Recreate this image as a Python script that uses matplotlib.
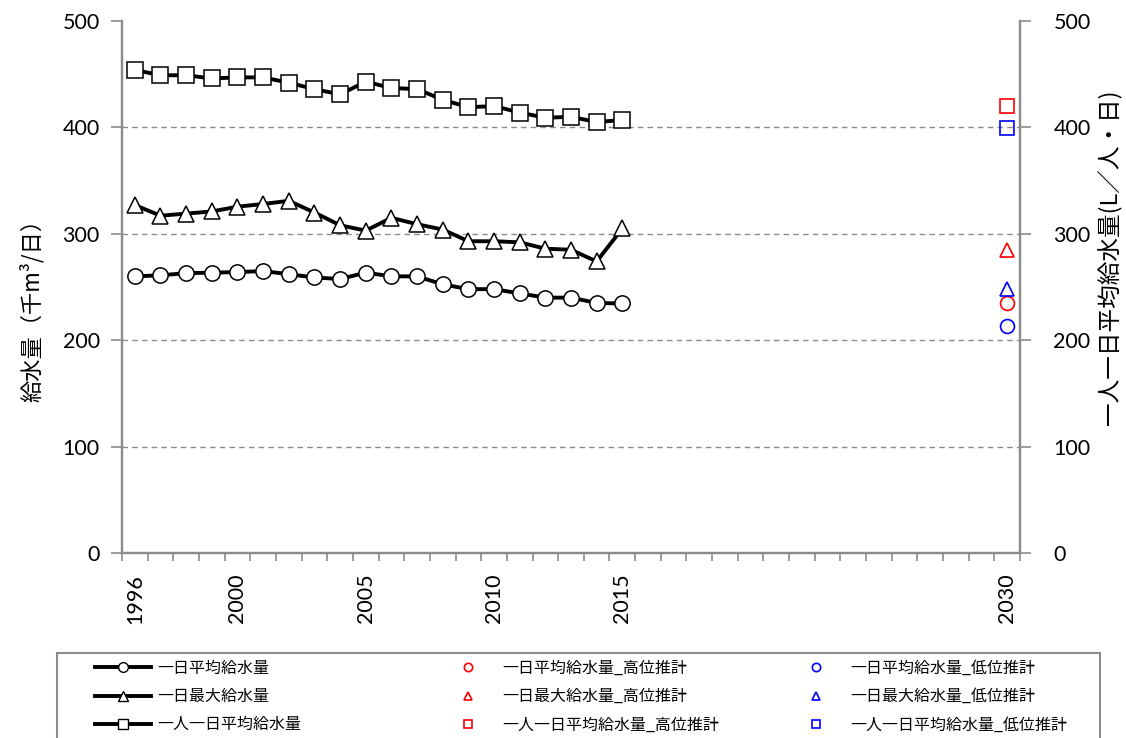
import numpy as np
import matplotlib
matplotlib.use("Agg")
import matplotlib.pyplot as plt
from matplotlib.lines import Line2D
from matplotlib.patches import Rectangle

plt.rcParams['font.family'] = ['Noto Sans CJK JP', 'DejaVu Sans']

# 実績値
years = list(range(1996, 2016))
avg_day = [260, 261, 263, 263.5, 264, 265, 262, 259, 257.5, 263.5,
           260, 260, 252.5, 248, 248, 244, 240, 240, 235, 234.5]
max_day = [327, 317, 319, 321, 325.5, 328, 331, 320, 308, 303,
           315, 309, 304, 293, 293, 292, 286, 285, 274, 305]
per_capita = [454, 449, 449, 446, 447, 447, 442, 436, 431, 443,
              437, 436, 426, 419, 420, 414, 409, 410, 405, 407]

# 2030年推計
year_est = 2030
avg_high, avg_low = 234.5, 213
max_high, max_low = 285, 248
cap_high, cap_low = 420, 399

xtick_years = [1996, 2000, 2005, 2010, 2015, 2030]
yticks = [0, 100, 200, 300, 400, 500]
grid_vals = [100, 200, 300, 400]

labels_main = ['一日平均給水量', '一日最大給水量', '一人一日平均給水量']
labels_high = ['一日平均給水量_高位推計', '一日最大給水量_高位推計', '一人一日平均給水量_高位推計']
labels_low = ['一日平均給水量_低位推計', '一日最大給水量_低位推計', '一人一日平均給水量_低位推計']

W, H = 1126, 738
fig = plt.figure(figsize=(W / 100, H / 100), dpi=100)
ax = fig.add_axes([122 / W, 1 - 553 / H, (1020 - 122) / W, (553 - 21) / H])
ax2 = ax.twinx()

gray = '#8c8c8c'
for v in grid_vals:
    ax.axhline(v, color=gray, lw=1, ls=(0, (4, 3)), zorder=0)

mk = dict(markerfacecolor='white', markeredgecolor='black', markeredgewidth=1.1)
ax.plot(years, avg_day, color='black', lw=2.8, marker='o', markersize=11, zorder=3, **mk)
ax.plot(years, max_day, color='black', lw=2.8, marker='^', markersize=12, zorder=3, **mk)
ax2.plot(years, per_capita, color='black', lw=2.8, marker='s', markersize=11, zorder=3, **mk)

est = dict(markerfacecolor='none', markeredgewidth=1.2, markersize=10, ls='none')
ax.plot([year_est], [avg_high], marker='o', markeredgecolor='red', **est)
ax.plot([year_est], [avg_low], marker='o', markeredgecolor='blue', **est)
ax.plot([year_est], [max_high], marker='^', markeredgecolor='red', **est)
ax.plot([year_est], [max_low], marker='^', markeredgecolor='blue', **est)
ax2.plot([year_est], [cap_high], marker='s', markeredgecolor='red', **est)
ax2.plot([year_est], [cap_low], marker='s', markeredgecolor='blue', **est)

for a in (ax, ax2):
    a.set_xlim(1995.5, 2030.5)
    a.set_ylim(0, 500)
    a.set_yticks(yticks)
    a.spines['top'].set_visible(False)
    for s in ('left', 'right', 'bottom'):
        a.spines[s].set_color(gray)
        a.spines[s].set_linewidth(1.6)
    a.tick_params(axis='y', colors=gray, length=8, width=1.2, labelsize=15.5,
                  labelcolor='black', pad=8)
ax2.tick_params(axis='y', pad=16)

ax.set_xticks(xtick_years)
ax.set_xticklabels([str(y) for y in xtick_years], rotation=90, fontsize=15.5,
                   family=['Lato', 'DejaVu Sans'])
ax.set_xticks(np.arange(1995.5, 2031, 1.0), minor=True)
ax.tick_params(axis='x', which='major', length=0, pad=15)
ax.tick_params(axis='x', which='minor', length=6, width=1.2, colors=gray)
for t in ax.get_yticklabels() + ax2.get_yticklabels():
    t.set_family(['Lato', 'DejaVu Sans'])

fig.text(32 / W, 1 - 305 / H, '給水量（千m³/日）', rotation=90, fontsize=16,
         ha='center', va='center')
fig.text(1110 / W, 1 - 257 / H, '一人一日平均給水量(L／人・日)', rotation=90, fontsize=17,
         ha='center', va='center')

# 凡例
fig.patches.append(Rectangle((57 / W, -0.01), (1100 - 57) / W, 1 - 653 / H + 0.01,
                             transform=fig.transFigure, fill=False,
                             edgecolor=gray, lw=1.5))
markers = ['o', '^', 's']
h1 = [Line2D([], [], color='black', lw=2.8, marker=m, markersize=7,
             markerfacecolor='white', markeredgecolor='black', markeredgewidth=1)
      for m in markers]
h2 = [Line2D([], [], ls='none', marker=m, markersize=6, markerfacecolor='none',
             markeredgecolor='red', markeredgewidth=1.2) for m in markers]
h3 = [Line2D([], [], ls='none', marker=m, markersize=6, markerfacecolor='none',
             markeredgecolor='blue', markeredgewidth=1.2) for m in markers]
for hs, ls_, x0 in ((h1, labels_main, 95), (h2, labels_high, 440), (h3, labels_low, 788)):
    fig.legend(hs, ls_, loc='upper left', bbox_to_anchor=(x0 / W, 1 - 660 / H),
               frameon=False, fontsize=11.5, handlelength=3.5, handletextpad=0.4,
               borderpad=0, borderaxespad=0, labelspacing=0.7)

fig.savefig('out.png', dpi=100)
